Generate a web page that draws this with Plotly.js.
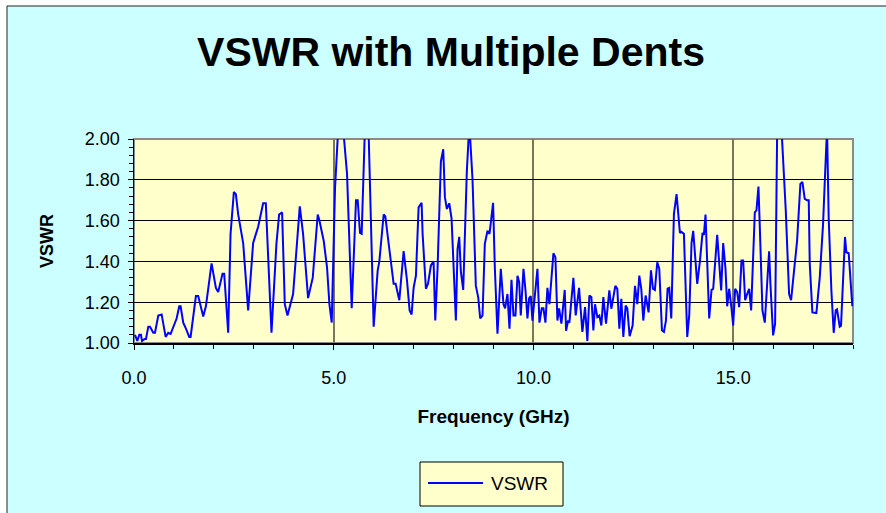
<!DOCTYPE html>
<html>
<head>
<meta charset="utf-8">
<script src="https://cdn.plot.ly/plotly-3.0.1.min.js"></script>
<style>html,body{margin:0;padding:0;background:#fff;}#chart{width:886px;height:513px;}</style>
</head>
<body>
<div id="chart"></div>
<script>
const seriesName = "VSWR";
const freqGHz = [
0.025,0.083,0.133,0.175,0.2,0.267,0.3,0.358,0.4,0.483,0.525,0.608,0.692,0.792,0.858,0.917,
1.067,1.133,1.167,1.233,1.3,1.383,1.417,1.55,1.608,1.65,1.733,1.8,1.942,
2.05,2.108,2.217,2.258,2.358,2.417,2.5,2.55,2.608,2.733,2.858,2.983,
3.108,3.233,3.3,3.442,3.567,3.633,3.708,3.775,3.842,3.917,3.983,
4.15,4.233,4.358,4.475,4.6,4.642,4.75,4.833,4.892,4.95,
5.033,5.117,5.18,5.25,5.333,5.45,5.558,5.6,5.658,5.7,5.767,5.82,5.875,5.933,
6.0,6.1,6.142,6.25,6.292,6.367,6.5,6.55,6.642,6.75,6.833,6.9,6.95,
7.0,7.058,7.125,7.2,7.225,7.308,7.36,7.433,7.5,7.542,7.6,7.683,7.742,7.783,7.833,7.892,7.95,
8.058,8.1,8.142,8.183,8.242,8.333,8.375,8.417,8.475,8.558,8.617,8.667,8.725,8.783,8.85,8.9,8.99,
9.033,9.1,9.183,9.25,9.29,9.35,9.4,9.45,9.5,9.55,9.6,9.642,9.683,9.75,9.8,9.85,9.892,9.933,9.975,
10.1,10.15,10.208,10.25,10.3,10.35,10.4,10.5,10.55,10.6,10.642,10.7,10.783,10.817,10.867,10.9,
11.0,11.058,11.142,11.225,11.292,11.35,11.4,11.45,11.5,11.542,11.6,11.65,11.7,11.75,11.817,11.9,11.95,
12.05,12.1,12.15,12.2,12.25,12.308,12.35,12.408,12.483,12.542,12.6,12.65,12.7,12.75,12.808,12.883,12.942,12.992,
13.04,13.1,13.15,13.217,13.267,13.317,13.358,13.4,13.45,13.517,13.583,13.667,13.7,13.767,13.85,13.9,13.958,
14.0,14.1,14.167,14.233,14.267,14.308,14.333,14.4,14.458,14.5,14.6,14.7,14.75,14.808,14.85,14.9,14.958,
15.0,15.05,15.1,15.15,15.208,15.25,15.3,15.35,15.4,15.45,15.542,15.583,15.633,15.667,15.733,15.792,15.9,15.933,
16.0,16.05,16.1,16.17,16.233,16.317,16.4,16.45,16.517,16.567,16.6,16.683,16.733,16.792,16.85,16.892,16.917,16.983,
17.083,17.167,17.25,17.308,17.35,17.392,17.458,17.517,17.567,17.6,17.667,17.7,17.8,17.833,17.892,17.983,18.0
];
const vswr = [
1.04,1.01,1.04,1.04,1.01,1.02,1.02,1.08,1.08,1.05,1.05,1.135,1.14,1.03,1.05,1.045,
1.12,1.18,1.18,1.10,1.07,1.03,1.03,1.23,1.23,1.20,1.13,1.18,1.39,
1.27,1.25,1.34,1.34,1.05,1.535,1.74,1.73,1.63,1.49,1.16,1.49,
1.57,1.685,1.685,1.05,1.49,1.63,1.64,1.19,1.135,1.19,1.24,
1.67,1.535,1.22,1.32,1.63,1.60,1.50,1.37,1.19,1.10,
1.76,2.02,2.3,2.02,1.83,1.17,1.70,1.70,1.54,1.535,2.02,2.3,2.02,1.58,
1.08,1.355,1.40,1.63,1.62,1.50,1.29,1.29,1.21,1.45,1.31,1.16,1.14,
1.27,1.33,1.665,1.687,1.535,1.266,1.29,1.38,1.40,1.11,1.37,1.89,1.95,1.715,1.657,1.685,1.61,
1.11,1.46,1.52,1.35,1.26,1.845,2.0,2.0,1.80,1.28,1.225,1.12,1.135,1.486,1.55,1.535,1.687,
1.37,1.046,1.364,1.19,1.17,1.24,1.07,1.31,1.135,1.135,1.33,1.30,1.135,1.364,1.26,1.12,1.22,1.23,1.11,
1.364,1.10,1.17,1.17,1.10,1.27,1.19,1.44,1.42,1.11,1.17,1.095,1.26,1.06,1.11,1.10,
1.32,1.135,1.27,1.054,1.176,1.01,1.233,1.225,1.062,1.19,1.127,1.135,1.086,1.225,1.095,1.258,1.168,
1.28,1.265,1.07,1.217,1.03,1.184,1.17,1.033,1.086,1.28,1.19,1.33,1.266,1.11,1.233,1.15,1.356,1.266,
1.26,1.396,1.364,1.062,1.054,1.11,1.266,1.27,1.12,1.633,1.73,1.54,1.545,1.535,1.03,1.135,1.49,
1.55,1.29,1.40,1.54,1.53,1.63,1.48,1.12,1.26,1.265,1.53,1.258,1.49,1.364,1.18,1.266,1.17,
1.086,1.266,1.25,1.176,1.405,1.405,1.21,1.24,1.266,1.16,1.64,1.65,1.767,1.568,1.16,1.10,1.45,1.29,
1.037,1.095,2.02,2.2,1.975,1.65,1.24,1.21,1.34,1.445,1.50,1.78,1.79,1.706,1.70,1.70,1.39,1.15,
1.147,1.32,1.58,1.86,2.05,1.61,1.26,1.05,1.16,1.165,1.08,1.085,1.52,1.445,1.44,1.18,1.22
];
const xTickVals = [0, 5, 10, 15];
const xTickText = ["0.0", "5.0", "10.0", "15.0"];
const yTickVals = [1.0, 1.2, 1.4, 1.6, 1.8, 2.0];
const yTickText = ["1.00", "1.20", "1.40", "1.60", "1.80", "2.00"];

const W = 886, H = 513;
const L = 134, R = 33, T = 139, B = 170;
const pw = W - L - R, ph = H - T - B;
function px2x(p) { return (p - L) / pw; }
function px2y(p) { return (H - B - p) / ph; }

const trace = {
  x: freqGHz, y: vswr, type: 'scatter', mode: 'lines', name: seriesName,
  line: { color: '#0000FF', width: 2 }, showlegend: false
};

const font = "Liberation Sans, Arial, sans-serif";
const layout = {
  width: W, height: H,
  margin: { l: L, r: R, t: T, b: B, pad: 0 },
  paper_bgcolor: '#FFFFFF',
  plot_bgcolor: 'rgba(0,0,0,0)',
  font: { family: font, color: '#000', size: 18 },
  title: {
    text: '<b>VSWR with Multiple Dents</b>',
    font: { family: font, size: 41, color: '#000' },
    x: 451 / W, xanchor: 'center', xref: 'container',
    y: 1 - 52 / H, yanchor: 'middle', yref: 'container'
  },
  xaxis: {
    range: [0, 18], tickvals: xTickVals, ticktext: xTickText,
    ticks: 'outside', ticklen: 5, tickcolor: '#000', ticklabelstandoff: 13,
    showline: true, linecolor: '#000', linewidth: 1.5, mirror: false,
    showgrid: true, gridcolor: '#77775f', gridwidth: 2,
    zeroline: false,
    minor: { dtick: 1, ticks: 'outside', ticklen: 4, tickcolor: '#000', showgrid: false },
    tickfont: { size: 18 },
    title: { text: '<b>Frequency (GHz)</b>', font: { size: 19 }, standoff: 22 }
  },
  yaxis: {
    range: [1, 2], tickvals: yTickVals, ticktext: yTickText,
    ticks: 'outside', ticklen: 5, tickcolor: '#000', ticklabelstandoff: 4,
    showline: true, linecolor: '#000', linewidth: 1.5,
    showgrid: true, gridcolor: '#000', gridwidth: 1,
    zeroline: false,
    minor: { dtick: 0.04, ticks: 'outside', ticklen: 4, tickcolor: '#000', showgrid: false },
    tickfont: { size: 18 },
    title: { text: '<b>VSWR</b>', font: { size: 18 }, standoff: 26 }
  },
  showlegend: false,
  shapes: [
    { type: 'rect', xref: 'paper', yref: 'paper', layer: 'below',
      x0: px2x(7), x1: px2x(900), y0: px2y(530), y1: px2y(6),
      fillcolor: '#CCFFFF', line: { color: '#222', width: 1 } },
    { type: 'rect', xref: 'paper', yref: 'paper', layer: 'below',
      x0: 0, x1: 1, y0: 0, y1: 1,
      fillcolor: '#FFFFCC', line: { color: '#8a8a8a', width: 2 } },
    // legend box and sample line
    { type: 'rect', xref: 'paper', yref: 'paper', layer: 'above',
      x0: px2x(420), x1: px2x(563), y0: px2y(506), y1: px2y(462),
      fillcolor: '#FFFFCC', line: { color: '#000', width: 1 } },
    { type: 'line', xref: 'paper', yref: 'paper', layer: 'above',
      x0: px2x(428), x1: px2x(483), y0: px2y(483), y1: px2y(483),
      line: { color: '#0000FF', width: 2 } }
  ],
  annotations: [
    { text: seriesName, xref: 'paper', yref: 'paper', showarrow: false,
      x: px2x(489), y: px2y(483), xanchor: 'left', yanchor: 'middle',
      font: { family: font, size: 19, color: '#000' } }
  ]
};

Plotly.newPlot('chart', [trace], layout, { staticPlot: true, displayModeBar: false });
</script>
</body>
</html>
